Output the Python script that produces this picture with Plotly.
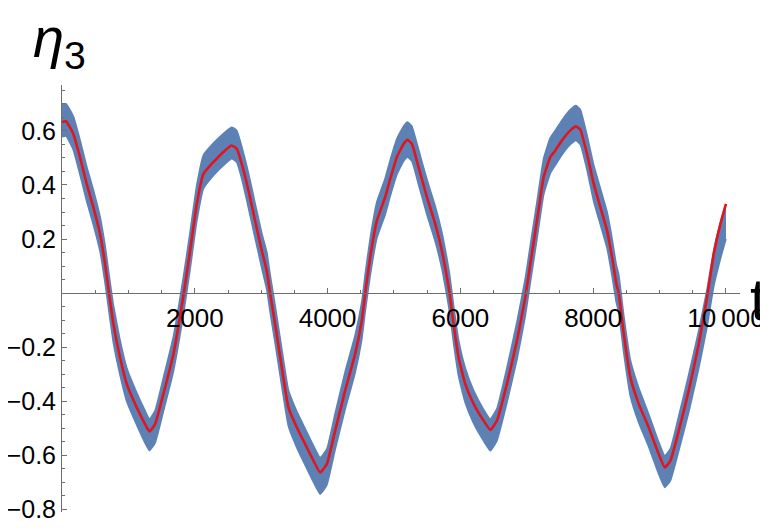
import plotly.graph_objects as go

# time samples
t = [0, 60, 171, 271, 372, 472, 573, 648, 708, 774, 874, 975, 1125, 1251, 1317, 1402, 1527, 1678,
     1829, 1929, 2030, 2130, 2281, 2456, 2556, 2632, 2707, 2808, 2908, 3009, 3084, 3134, 3209, 3310,
     3410, 3536, 3662, 3787, 3888, 3988, 4114, 4264, 4415, 4515, 4566, 4641, 4742, 4867, 4943, 5043,
     5144, 5204, 5269, 5370, 5496, 5621, 5722, 5797, 5837, 5897, 5973, 6073, 6199, 6349, 6450, 6550,
     6701, 6852, 6977, 7053, 7153, 7254, 7354, 7430, 7530, 7656, 7741, 7807, 7907, 8008, 8108, 8209,
     8284, 8349, 8384, 8460, 8560, 8686, 8836, 8987, 9078, 9163, 9289, 9439, 9590, 9715, 9816, 9916,
     10000]

# averaged curve (red)
eta_avg = [0.633, 0.636, 0.589, 0.503, 0.404, 0.318, 0.219, 0.108, 0.0, -0.114, -0.238, -0.336, -0.423,
           -0.485, -0.512, -0.485, -0.373, -0.225, -0.009, 0.157, 0.330, 0.441, 0.485, 0.528, 0.546,
           0.534, 0.478, 0.380, 0.268, 0.157, 0.083, 0.0, -0.114, -0.275, -0.423, -0.497, -0.559, -0.620,
           -0.664, -0.633, -0.509, -0.361, -0.225, -0.102, 0.0, 0.133, 0.268, 0.355, 0.423, 0.503, 0.552,
           0.567, 0.552, 0.466, 0.355, 0.256, 0.157, 0.059, 0.0, -0.114, -0.238, -0.336, -0.410, -0.472,
           -0.506, -0.472, -0.336, -0.176, -0.016, 0.108, 0.268, 0.429, 0.503, 0.528, 0.565, 0.602, 0.617,
           0.604, 0.515, 0.404, 0.318, 0.231, 0.133, 0.034, 0.0, -0.151, -0.312, -0.410, -0.497, -0.596,
           -0.645, -0.620, -0.509, -0.361, -0.188, -0.015, 0.145, 0.256, 0.330]

# upper / lower envelope of the fast-oscillating full solution (blue band)
eta_hi = [0.698, 0.701, 0.654, 0.568, 0.469, 0.383, 0.284, 0.178, 0.070, -0.044, -0.173, -0.276, -0.368,
          -0.435, -0.466, -0.435, -0.313, -0.160, 0.061, 0.227, 0.400, 0.511, 0.555, 0.596, 0.614, 0.602,
          0.543, 0.445, 0.333, 0.222, 0.153, 0.070, -0.044, -0.205, -0.358, -0.437, -0.501, -0.564,
          -0.608, -0.577, -0.444, -0.291, -0.155, -0.032, 0.070, 0.203, 0.338, 0.425, 0.493, 0.571, 0.618,
          0.633, 0.618, 0.532, 0.421, 0.322, 0.225, 0.129, 0.070, -0.044, -0.173, -0.276, -0.360, -0.430,
          -0.466, -0.427, -0.276, -0.106, 0.054, 0.178, 0.338, 0.499, 0.575, 0.602, 0.640, 0.679, 0.694,
          0.679, 0.585, 0.474, 0.388, 0.301, 0.203, 0.104, 0.070, -0.081, -0.247, -0.350, -0.447, -0.551,
          -0.602, -0.575, -0.454, -0.301, -0.138, 0.015, 0.160, 0.261, 0.330]
eta_lo = [0.578, 0.581, 0.529, 0.438, 0.339, 0.253, 0.154, 0.038, -0.070, -0.184, -0.303, -0.401, -0.488,
          -0.555, -0.583, -0.555, -0.438, -0.290, -0.079, 0.087, 0.265, 0.386, 0.435, 0.478, 0.497, 0.484,
          0.423, 0.315, 0.203, 0.092, 0.013, -0.070, -0.184, -0.345, -0.493, -0.572, -0.637, -0.700,
          -0.744, -0.711, -0.579, -0.431, -0.295, -0.172, -0.070, 0.063, 0.203, 0.290, 0.358, 0.438, 0.488,
          0.503, 0.488, 0.401, 0.290, 0.191, 0.089, -0.011, -0.070, -0.184, -0.308, -0.406, -0.482, -0.547,
          -0.583, -0.547, -0.406, -0.246, -0.086, 0.038, 0.198, 0.364, 0.443, 0.473, 0.512, 0.550, 0.565,
          0.549, 0.455, 0.339, 0.253, 0.166, 0.063, -0.036, -0.070, -0.221, -0.382, -0.480, -0.569, -0.670,
          -0.719, -0.694, -0.584, -0.441, -0.278, -0.125, 0.025, 0.126, 0.200]

x_tickvals = [2000, 4000, 6000, 8000, 10000]
x_ticktext = ["2000", "4000", "6000", "8000", "10\u2009000"]
y_tickvals = [-0.8, -0.6, -0.4, -0.2, 0.2, 0.4, 0.6]
y_ticktext = ["\u22120.8", "\u22120.6", "\u22120.4", "\u22120.2", "0.2", "0.4", "0.6"]

BLUE = "#5E81B5"
RED = "#E0161E"
AXIS = "#6E6E6E"
FONT = "Liberation Sans, Arial, Helvetica, sans-serif"

YMIN, YMAX = -0.81, 0.77
XMIN, XMAX = 0, 10211
ZERO_POS = (0 - YMIN) / (YMAX - YMIN)

fig = go.Figure()
fig.add_trace(go.Scatter(x=t, y=eta_lo, mode="lines", line=dict(color=BLUE, width=1.5, shape="spline", smoothing=0.4),
                         hoverinfo="skip", showlegend=False))
fig.add_trace(go.Scatter(x=t, y=eta_hi, mode="lines", line=dict(color=BLUE, width=1.5, shape="spline", smoothing=0.4),
                         fill="tonexty", fillcolor=BLUE, hoverinfo="skip", showlegend=False))
fig.add_trace(go.Scatter(x=t, y=eta_avg, mode="lines", line=dict(color=RED, width=2.6, shape="spline", smoothing=0.4),
                         showlegend=False))

# the page body has an 8px margin, so the figure is 8px smaller and margins are offset
fig.update_layout(
    width=760, height=521,
    margin=dict(l=54, r=28, t=77, b=17, pad=0, autoexpand=False),
    paper_bgcolor="white", plot_bgcolor="white",
    font=dict(family=FONT, size=26, color="black"),
    xaxis=dict(
        range=[XMIN, XMAX], showgrid=False, zeroline=False, automargin=False,
        showline=True, linecolor=AXIS, linewidth=1,
        anchor="free", position=ZERO_POS,
        tickmode="array", tickvals=x_tickvals, ticktext=x_ticktext,
        ticks="inside", ticklen=5, tickcolor=AXIS, tickwidth=1,
        tickfont=dict(family=FONT, size=26, color="black"),
        ticklabelstandoff=2,
        minor=dict(tickmode="linear", tick0=0, dtick=500, ticks="inside", ticklen=3, tickcolor=AXIS, showgrid=False),
    ),
    yaxis=dict(
        range=[YMIN, YMAX], showgrid=False, zeroline=False, automargin=False,
        showline=True, linecolor=AXIS, linewidth=1,
        tickmode="array", tickvals=y_tickvals, ticktext=y_ticktext,
        ticks="inside", ticklen=5, tickcolor=AXIS, tickwidth=1,
        tickfont=dict(family=FONT, size=25, color="black"),
        minor=dict(tickmode="linear", tick0=0, dtick=0.05, ticks="inside", ticklen=3, tickcolor=AXIS, showgrid=False),
    ),
    annotations=[
        dict(text="<i>η</i><sub>3</sub>", xref="paper", yref="paper", x=-0.045, y=1.0, yshift=6,
             xanchor="left", yanchor="bottom", showarrow=False,
             font=dict(family=FONT, size=56, color="black")),
        dict(text="t", xref="paper", yref="paper", x=1.0, y=ZERO_POS,
             xshift=18, yshift=-6, xanchor="center", yanchor="middle", showarrow=False,
             font=dict(family=FONT, size=60, color="black")),
    ],
)

fig.write_html("out.html")
